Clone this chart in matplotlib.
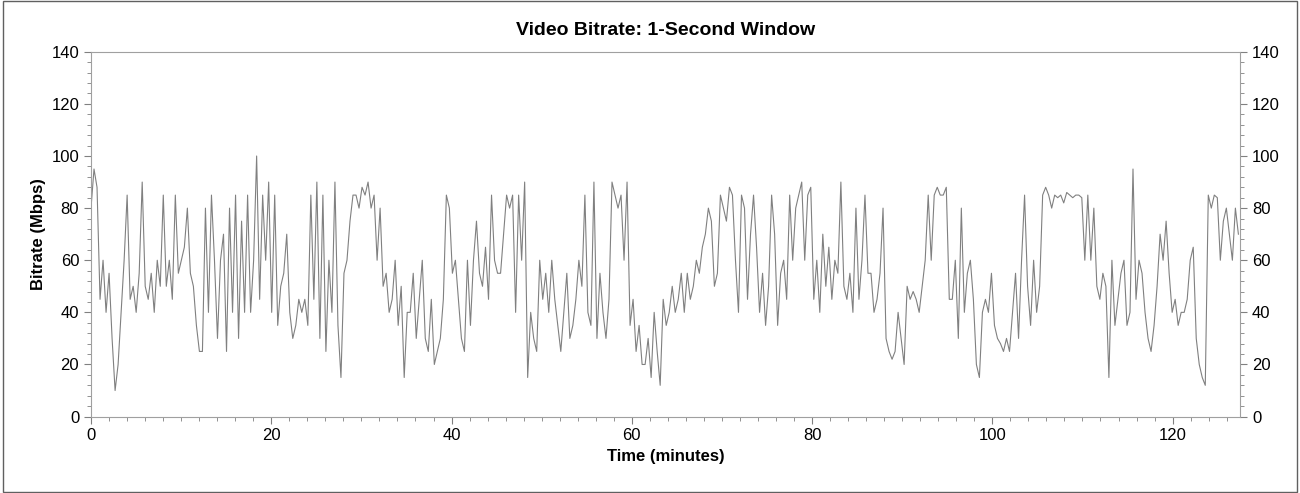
import matplotlib
matplotlib.use("Agg")
import matplotlib.pyplot as plt
import numpy as np
from matplotlib.ticker import MultipleLocator

plt.rcParams['font.family'] = ['Liberation Sans', 'DejaVu Sans']

# bitrate samples, three per minute (Mbps)
bitrate = [
80,95,88, 45,60,40, 55,30,10, 20,40,60, 85,45,50, 40,55,90, 50,45,55, 40,60,50,
85,50,60, 45,85,55, 60,65,80, 55,50,35, 25,25,80, 40,85,60, 30,60,70, 25,80,40,
85,30,75, 40,85,40, 60,100,45, 85,60,90, 40,85,35, 50,55,70, 40,30,35, 45,40,45,
35,85,45, 90,30,85, 25,60,40, 90,35,15, 55,60,75, 85,85,80, 88,85,90, 80,85,60,
80,50,55, 40,45,60, 35,50,15, 40,40,55, 30,45,60, 30,25,45, 20,25,30, 45,85,80,
55,60,45, 30,25,60, 35,60,75, 55,50,65, 45,85,60, 55,55,70, 85,80,85, 40,85,60,
90,15,40, 30,25,60, 45,55,40, 60,45,35, 25,40,55, 30,35,45, 60,50,85, 40,35,90,
30,55,40, 30,45,90, 85,80,85, 60,90,35, 45,25,35, 20,20,30, 15,40,25, 12,45,35,
40,50,40, 45,55,40, 55,45,50, 60,55,65, 70,80,75, 50,55,85, 80,75,88, 85,60,40,
85,80,45, 70,85,65, 40,55,35, 50,85,70, 35,55,60, 45,85,60, 80,85,90, 60,85,88,
45,60,40, 70,50,65, 45,60,55, 90,50,45, 55,40,80, 45,60,85, 55,55,40, 45,55,80,
30,25,22, 25,40,30, 20,50,45, 48,45,40, 50,60,85, 60,85,88, 85,85,88, 45,45,60,
30,80,40, 55,60,45, 20,15,40, 45,40,55, 35,30,28, 25,30,25, 40,55,30, 60,85,50,
35,60,40, 50,85,88, 85,80,85, 84,85,82, 86,85,84, 85,85,84, 60,85,60, 80,50,45,
55,50,15, 60,35,45, 55,60,35, 40,95,45, 60,55,40, 30,25,35, 50,70,60, 75,55,40,
45,35,40, 40,45,60, 65,30,20, 15,12,85, 80,85,84, 60,75,80, 70,60,80, 70,
]
times = np.linspace(0, 127.3, len(bitrate))
x_ticks = [0, 20, 40, 60, 80, 100, 120]
y_ticks = [0, 20, 40, 60, 80, 100, 120, 140]

fig = plt.figure(figsize=(13, 4.93), dpi=100)
fig.patches.append(plt.Rectangle((0.002, 0.003), 0.996, 0.994, transform=fig.transFigure,
                                 fill=False, edgecolor="#606060", linewidth=1))
ax = fig.add_axes([0.070, 0.155, 0.884, 0.74])
ax.plot(times, bitrate, color="#808080", linewidth=0.8)
ax.set_xlim(0, 127.5)
ax.set_ylim(0, 140)
ax.set_xticks(x_ticks)
ax.set_yticks(y_ticks)
ax.xaxis.set_minor_locator(MultipleLocator(2))
ax.yaxis.set_minor_locator(MultipleLocator(4))
ax.tick_params(which="both", right=True, labelright=True, labelsize=12, color="#808080")
ax.tick_params(which="major", length=5)
ax.tick_params(which="minor", length=3)
for s in ax.spines.values():
    s.set_color("#a0a0a0")
ax.set_title("Video Bitrate: 1-Second Window", fontsize=14, fontweight="bold", pad=12)
ax.set_xlabel("Time (minutes)", fontsize=12, fontweight="bold")
ax.set_ylabel("Bitrate (Mbps)", fontsize=12, fontweight="bold")
fig.savefig("out.png", dpi=100)
